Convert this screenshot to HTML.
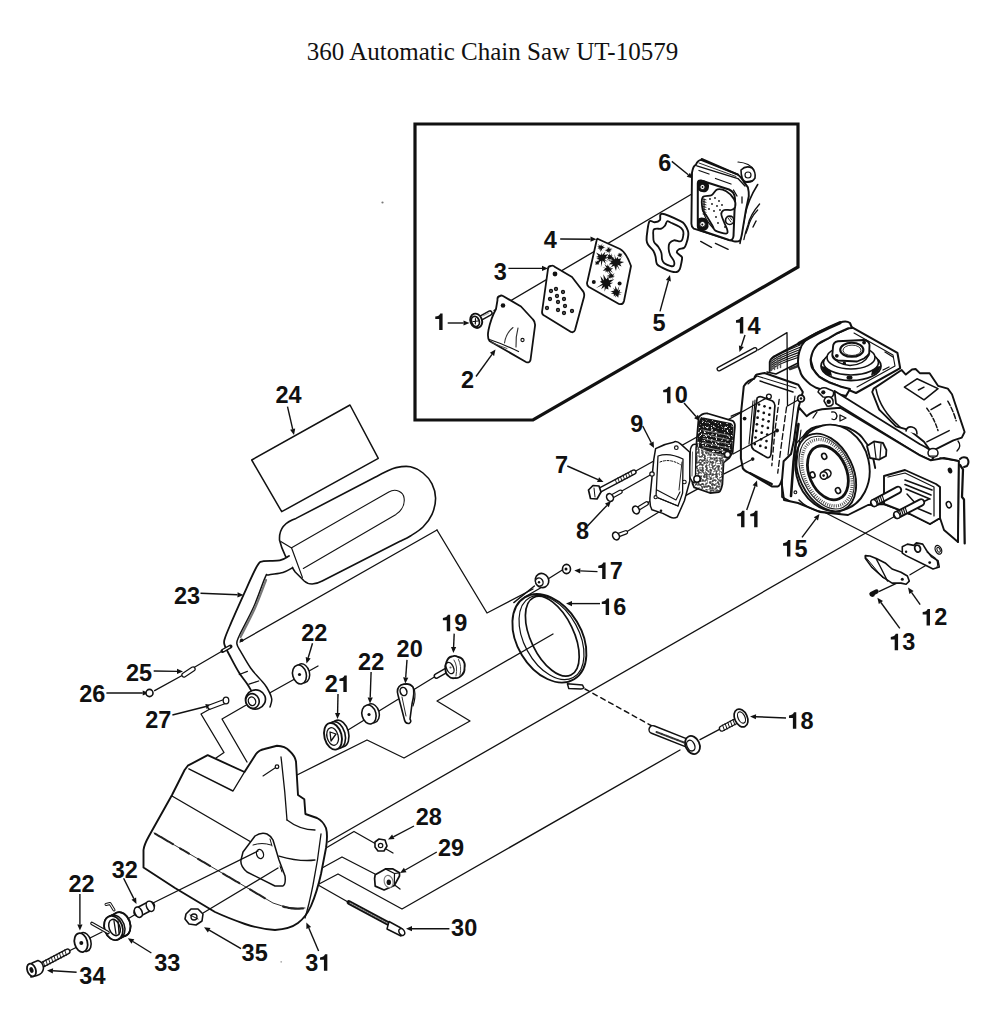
<!DOCTYPE html>
<html><head><meta charset="utf-8"><style>
html,body{margin:0;padding:0;background:#fff;}
body{width:1000px;height:1019px;overflow:hidden;position:relative;}
svg{position:absolute;left:0;top:0;}
.L{font-family:"Liberation Sans",sans-serif;font-weight:bold;font-size:23.5px;fill:#111;}
.T{font-family:"Liberation Serif",serif;font-size:25px;fill:#111;}
.t{fill:none;stroke:#111;stroke-linecap:round;stroke-linejoin:round;}
.a{stroke:#111;}
</style></head><body>
<svg width="1000" height="1019" viewBox="0 0 1000 1019">
<text x="492.5" y="59.7" text-anchor="middle" class="T">360 Automatic Chain Saw UT-10579</text>
<polygon points="415,124 798,124 798,267 533,420 415,420" fill="none" stroke="#111" stroke-width="3.2" stroke-linejoin="miter"/>
<polyline points="494,310.5 702,188" class="t" stroke-width="1.32"/>
<polyline points="437,530 487,613 533,589" class="t" stroke-width="1.32"/>
<polyline points="240,642 437,530" class="t" stroke-width="1.32"/>
<polyline points="266,695 318,666" class="t" stroke-width="1.32"/>
<polyline points="348,730 436,676" class="t" stroke-width="1.32"/>
<polyline points="297,775 367,740 404,758 470,721 437,701 553,634" class="t" stroke-width="1.32"/>
<polyline points="328,842 904,511" class="t" stroke-width="1.32"/>
<polyline points="326,848 354,831.5 376,844" class="t" stroke-width="1.32"/>
<polyline points="386,849 393,853" class="t" stroke-width="1.32"/>
<polyline points="322,868 342,857 375,874" class="t" stroke-width="1.32"/>
<polyline points="392,883 400,889" class="t" stroke-width="1.32"/>
<polyline points="319,884 338,874 402,909 680,750" class="t" stroke-width="1.32"/>
<polyline points="319,885.5 348,902" class="t" stroke-width="1.32"/>
<polyline points="720.4,728.8 700,739.6" class="t" stroke-width="1.32"/>
<polyline points="585,689 652,726" class="t" stroke-width="1.44" stroke-dasharray="5,4"/>
<polyline points="822,511 903,552.5" class="t" stroke-width="1.32"/>
<polyline points="879.3,591.4 898.5,582.4" class="t" stroke-width="1.32"/>
<polyline points="910,574.8 925.3,565.8" class="t" stroke-width="1.32"/>
<polyline points="561.9,570.3 548,579" class="t" stroke-width="1.32"/>
<polyline points="210,709 201,714 224,752.5 216,758" class="t" stroke-width="1.32"/>
<polyline points="248,704 222,719 247,762" class="t" stroke-width="1.32"/>
<polyline points="194,667.5 224,650" class="t" stroke-width="1.32"/>
<polyline points="154.6,690.6 183,675" class="t" stroke-width="1.32"/>
<polyline points="67,952 76,947.5" class="t" stroke-width="1.32"/>
<polyline points="88,939 102,932" class="t" stroke-width="1.32"/>
<polyline points="126,920 136,914" class="t" stroke-width="1.32"/>
<polyline points="634,472 769,397" class="t" stroke-width="1.32"/>
<polyline points="620.5,491.8 652,474 700,452" class="t" stroke-width="1.32"/>
<polyline points="646.6,503.5 655.6,497.2 684.4,482" class="t" stroke-width="1.32"/>
<polyline points="686,495.4 702.4,486.4" class="t" stroke-width="1.32"/>
<polyline points="625.9,532.3 661,510.7" class="t" stroke-width="1.32"/>
<polyline points="724,473.8 753,459.4" class="t" stroke-width="1.32"/>
<polyline points="731.2,416.2 760,403.6" class="t" stroke-width="1.32"/>
<polyline points="733,454 777,430.4" class="t" stroke-width="1.32"/>
<path d="M442.58,329.90 L442.58,313.40 L440.28,313.40 C439.58,315.30 437.88,316.30 435.28,316.60 L435.28,319.00 L439.18,319.00 L439.18,329.90 Z" fill="#111"/>
<line x1="447.7" y1="323" x2="463.5" y2="323.0" class="a" stroke-width="1.4"/>
<polygon points="469.5,323 463.5,325.6 463.5,320.4" fill="#111"/>
<text x="460.99" y="388.20" class="L">2</text>
<line x1="476" y1="376.5" x2="492.0" y2="354.4" class="a" stroke-width="1.4"/>
<polygon points="495.5,349.5 494.1,355.9 489.9,352.8" fill="#111"/>
<text x="493.86" y="279.80" class="L">3</text>
<line x1="508.4" y1="268.4" x2="542.0" y2="268.4" class="a" stroke-width="1.4"/>
<polygon points="548,268.4 542.0,271.0 542.0,265.8" fill="#111"/>
<text x="543.74" y="248.30" class="L">4</text>
<line x1="560.2" y1="239" x2="590.5" y2="239.2" class="a" stroke-width="1.4"/>
<polygon points="596.5,239.2 590.5,241.8 590.5,236.6" fill="#111"/>
<text x="652.48" y="330.60" class="L">5</text>
<line x1="660" y1="311.4" x2="668.4" y2="280.8" class="a" stroke-width="1.4"/>
<polygon points="670,275 670.9,281.5 665.9,280.1" fill="#111"/>
<text x="658.34" y="171.20" class="L">6</text>
<line x1="671.8" y1="161.4" x2="688.3" y2="174.7" class="a" stroke-width="1.4"/>
<polygon points="693,178.5 686.7,176.8 690.0,172.7" fill="#111"/>
<text x="554.99" y="472.90" class="L">7</text>
<line x1="567.3" y1="466" x2="598.0" y2="479.6" class="a" stroke-width="1.4"/>
<polygon points="603.5,482 597.0,482.0 599.1,477.2" fill="#111"/>
<text x="576.05" y="539.00" class="L">8</text>
<line x1="587.5" y1="526" x2="606.9" y2="505.4" class="a" stroke-width="1.4"/>
<polygon points="611,501 608.8,507.2 605.0,503.6" fill="#111"/>
<text x="630.19" y="431.70" class="L">9</text>
<line x1="642.7" y1="426" x2="651.3" y2="442.7" class="a" stroke-width="1.4"/>
<polygon points="654,448 648.9,443.9 653.6,441.5" fill="#111"/>
<path d="M670.48,403.20 L670.48,386.70 L668.18,386.70 C667.48,388.60 665.78,389.60 663.18,389.90 L663.18,392.30 L667.08,392.30 L667.08,403.20 Z" fill="#111"/>
<text x="674.65" y="403.20" class="L">0</text>
<line x1="684" y1="403" x2="696.0" y2="416.5" class="a" stroke-width="1.4"/>
<polygon points="700,421 694.1,418.2 698.0,414.8" fill="#111"/>
<path d="M744.48,527.20 L744.48,510.70 L742.18,510.70 C741.48,512.60 739.78,513.60 737.18,513.90 L737.18,516.30 L741.08,516.30 L741.08,527.20 Z" fill="#111"/>
<path d="M757.55,527.20 L757.55,510.70 L755.25,510.70 C754.55,512.60 752.85,513.60 750.25,513.90 L750.25,516.30 L754.15,516.30 L754.15,527.20 Z" fill="#111"/>
<line x1="746.7" y1="510" x2="755.0" y2="486.2" class="a" stroke-width="1.4"/>
<polygon points="757,480.5 757.5,487.0 752.6,485.3" fill="#111"/>
<path d="M929.98,625.40 L929.98,608.90 L927.68,608.90 C926.98,610.80 925.28,611.80 922.68,612.10 L922.68,614.50 L926.58,614.50 L926.58,625.40 Z" fill="#111"/>
<text x="934.15" y="625.40" class="L">2</text>
<line x1="920.2" y1="604.7" x2="911.5" y2="592.4" class="a" stroke-width="1.4"/>
<polygon points="908,587.5 913.6,590.9 909.4,593.9" fill="#111"/>
<path d="M898.08,650.30 L898.08,633.80 L895.78,633.80 C895.08,635.70 893.38,636.70 890.78,637.00 L890.78,639.40 L894.68,639.40 L894.68,650.30 Z" fill="#111"/>
<text x="902.25" y="650.30" class="L">3</text>
<line x1="899.8" y1="628.4" x2="880.9" y2="602.5" class="a" stroke-width="1.4"/>
<polygon points="877.4,597.7 883.0,601.0 878.8,604.1" fill="#111"/>
<path d="M743.28,333.60 L743.28,317.10 L740.98,317.10 C740.28,319.00 738.58,320.00 735.98,320.30 L735.98,322.70 L739.88,322.70 L739.88,333.60 Z" fill="#111"/>
<text x="747.45" y="333.60" class="L">4</text>
<line x1="745" y1="335" x2="741.3" y2="346.3" class="a" stroke-width="1.4"/>
<polygon points="739.5,352 738.9,345.5 743.8,347.1" fill="#111"/>
<path d="M790.38,556.60 L790.38,540.10 L788.08,540.10 C787.38,542.00 785.68,543.00 783.08,543.30 L783.08,545.70 L786.98,545.70 L786.98,556.60 Z" fill="#111"/>
<text x="794.55" y="556.60" class="L">5</text>
<line x1="802" y1="537.4" x2="815.9" y2="518.8" class="a" stroke-width="1.4"/>
<polygon points="819.5,514 818.0,520.4 813.8,517.2" fill="#111"/>
<path d="M609.08,615.00 L609.08,598.50 L606.78,598.50 C606.08,600.40 604.38,601.40 601.78,601.70 L601.78,604.10 L605.68,604.10 L605.68,615.00 Z" fill="#111"/>
<text x="613.25" y="615.00" class="L">6</text>
<line x1="600" y1="603.6" x2="572.0" y2="603.6" class="a" stroke-width="1.4"/>
<polygon points="566,603.6 572.0,601.0 572.0,606.2" fill="#111"/>
<path d="M605.58,579.00 L605.58,562.50 L603.28,562.50 C602.58,564.40 600.88,565.40 598.28,565.70 L598.28,568.10 L602.18,568.10 L602.18,579.00 Z" fill="#111"/>
<text x="609.75" y="579.00" class="L">7</text>
<line x1="597.5" y1="571.6" x2="580.3" y2="570.9" class="a" stroke-width="1.4"/>
<polygon points="574.3,570.6 580.4,568.3 580.2,573.5" fill="#111"/>
<path d="M796.28,728.80 L796.28,712.30 L793.98,712.30 C793.28,714.20 791.58,715.20 788.98,715.50 L788.98,717.90 L792.88,717.90 L792.88,728.80 Z" fill="#111"/>
<text x="800.45" y="728.80" class="L">8</text>
<line x1="786" y1="718" x2="756.0" y2="716.7" class="a" stroke-width="1.4"/>
<polygon points="750,716.5 756.1,714.2 755.9,719.3" fill="#111"/>
<path d="M450.18,631.20 L450.18,614.70 L447.88,614.70 C447.18,616.60 445.48,617.60 442.88,617.90 L442.88,620.30 L446.78,620.30 L446.78,631.20 Z" fill="#111"/>
<text x="454.35" y="631.20" class="L">9</text>
<line x1="454.2" y1="633.6" x2="453.6" y2="647.0" class="a" stroke-width="1.4"/>
<polygon points="453.4,653 451.0,646.9 456.2,647.1" fill="#111"/>
<text x="396.59" y="657.00" class="L">2</text>
<text x="409.65" y="657.00" class="L">0</text>
<line x1="407" y1="659.9" x2="405.7" y2="677.5" class="a" stroke-width="1.4"/>
<polygon points="405.3,683.5 403.1,677.3 408.3,677.7" fill="#111"/>
<text x="324.79" y="692.00" class="L">2</text>
<path d="M346.75,692.00 L346.75,675.50 L344.45,675.50 C343.75,677.40 342.05,678.40 339.45,678.70 L339.45,681.10 L343.35,681.10 L343.35,692.00 Z" fill="#111"/>
<line x1="338" y1="694" x2="337.6" y2="713.0" class="a" stroke-width="1.4"/>
<polygon points="337.5,719 335.0,712.9 340.2,713.1" fill="#111"/>
<text x="301.19" y="641.20" class="L">2</text>
<text x="314.25" y="641.20" class="L">2</text>
<line x1="312.5" y1="643.3" x2="308.2" y2="657.7" class="a" stroke-width="1.4"/>
<polygon points="306.5,663.4 305.7,656.9 310.7,658.4" fill="#111"/>
<text x="358.09" y="670.10" class="L">2</text>
<text x="371.15" y="670.10" class="L">2</text>
<line x1="371.1" y1="672.1" x2="370.2" y2="697.5" class="a" stroke-width="1.4"/>
<polygon points="370,703.5 367.6,697.4 372.8,697.6" fill="#111"/>
<text x="68.49" y="891.70" class="L">2</text>
<text x="81.55" y="891.70" class="L">2</text>
<line x1="79.9" y1="894" x2="79.9" y2="924.5" class="a" stroke-width="1.4"/>
<polygon points="79.9,930.5 77.3,924.5 82.5,924.5" fill="#111"/>
<text x="173.99" y="603.70" class="L">2</text>
<text x="187.05" y="603.70" class="L">3</text>
<line x1="200.5" y1="593.3" x2="237.5" y2="594.8" class="a" stroke-width="1.4"/>
<polygon points="243.5,595 237.4,597.4 237.6,592.2" fill="#111"/>
<text x="275.39" y="403.30" class="L">2</text>
<text x="288.45" y="403.30" class="L">4</text>
<line x1="287.5" y1="406.6" x2="292.7" y2="429.2" class="a" stroke-width="1.4"/>
<polygon points="294,435 290.1,429.7 295.2,428.6" fill="#111"/>
<text x="125.89" y="680.50" class="L">2</text>
<text x="138.95" y="680.50" class="L">5</text>
<line x1="153.7" y1="671" x2="177.0" y2="671.4" class="a" stroke-width="1.4"/>
<polygon points="183,671.5 177.0,674.0 177.0,668.8" fill="#111"/>
<text x="79.19" y="702.00" class="L">2</text>
<text x="92.25" y="702.00" class="L">6</text>
<line x1="106.4" y1="693" x2="142.7" y2="693.0" class="a" stroke-width="1.4"/>
<polygon points="148.7,693 142.7,695.6 142.7,690.4" fill="#111"/>
<text x="145.19" y="727.50" class="L">2</text>
<text x="158.25" y="727.50" class="L">7</text>
<line x1="172.4" y1="715" x2="206.0" y2="706.5" class="a" stroke-width="1.4"/>
<polygon points="211.8,705 206.6,709.0 205.3,704.0" fill="#111"/>
<text x="415.79" y="824.60" class="L">2</text>
<text x="428.85" y="824.60" class="L">8</text>
<line x1="414" y1="826" x2="393.3" y2="836.8" class="a" stroke-width="1.4"/>
<polygon points="388,839.6 392.1,834.5 394.5,839.1" fill="#111"/>
<text x="437.99" y="856.10" class="L">2</text>
<text x="451.05" y="856.10" class="L">9</text>
<line x1="436.8" y1="852" x2="405.2" y2="870.0" class="a" stroke-width="1.4"/>
<polygon points="400,873 403.9,867.8 406.5,872.3" fill="#111"/>
<text x="451.06" y="936.00" class="L">3</text>
<text x="464.13" y="936.00" class="L">0</text>
<line x1="449.4" y1="928.7" x2="412.0" y2="928.7" class="a" stroke-width="1.4"/>
<polygon points="406,928.7 412.0,926.1 412.0,931.3" fill="#111"/>
<text x="305.36" y="970.70" class="L">3</text>
<path d="M327.33,970.70 L327.33,954.20 L325.03,954.20 C324.33,956.10 322.63,957.10 320.03,957.40 L320.03,959.80 L323.93,959.80 L323.93,970.70 Z" fill="#111"/>
<line x1="318.6" y1="951" x2="308.8" y2="927.9" class="a" stroke-width="1.4"/>
<polygon points="306.4,922.4 311.1,926.9 306.4,928.9" fill="#111"/>
<text x="111.76" y="877.70" class="L">3</text>
<text x="124.83" y="877.70" class="L">2</text>
<line x1="123.6" y1="878.2" x2="133.8" y2="898.6" class="a" stroke-width="1.4"/>
<polygon points="136.5,904 131.5,899.8 136.1,897.5" fill="#111"/>
<text x="154.16" y="970.50" class="L">3</text>
<text x="167.23" y="970.50" class="L">3</text>
<line x1="151.4" y1="953" x2="132.9" y2="941.5" class="a" stroke-width="1.4"/>
<polygon points="127.8,938.3 134.3,939.3 131.5,943.7" fill="#111"/>
<text x="79.36" y="984.40" class="L">3</text>
<text x="92.43" y="984.40" class="L">4</text>
<line x1="76.6" y1="972.2" x2="53.0" y2="970.8" class="a" stroke-width="1.4"/>
<polygon points="47,970.5 53.1,968.2 52.8,973.4" fill="#111"/>
<text x="241.56" y="961.10" class="L">3</text>
<text x="254.63" y="961.10" class="L">5</text>
<line x1="241" y1="948.7" x2="209.2" y2="930.2" class="a" stroke-width="1.4"/>
<polygon points="204,927.2 210.5,928.0 207.9,932.5" fill="#111"/>
<path d="M481,318 L490,313" fill="none" stroke="#111" stroke-width="5.60" stroke-linejoin="round" stroke-linecap="round" />
<path d="M481,318 L490,313" fill="none" stroke="#fff" stroke-width="2.60" stroke-linejoin="round" stroke-linecap="round" />
<path d="M483,316 L489,313" fill="none" stroke="#888" stroke-width="0.90" stroke-linejoin="round" stroke-linecap="round" />
<ellipse cx="476.2" cy="320.8" rx="5.8" ry="7.3" transform="rotate(-20 476.2 320.8)" fill="#fff" stroke="#111" stroke-width="1.9"/>
<ellipse cx="475.4" cy="321.4" rx="3.8" ry="5.2" transform="rotate(-20 475.4 321.4)" fill="#fff" stroke="#111" stroke-width="1.8"/>
<path d="M473,321.5 L478,321 M475.5,318.5 L475.3,324" fill="none" stroke="#111" stroke-width="1.20" stroke-linejoin="round" stroke-linecap="round" />
<path d="M500,296 Q497,296.5 497.5,300 L496,309 Q491,318 488.5,330 Q487,338 489.5,341 L526,362 Q529.5,363.5 530.5,360 L535,326 Q535.5,322 533,319.5 L521,306.5 L503,296 Q501,295 500,296 Z" fill="#fff" stroke="#111" stroke-width="1.80" stroke-linejoin="round" stroke-linecap="round" />
<circle cx="503" cy="305.5" r="2.3" fill="#111"/>
<path d="M504.5,343 Q506,333 513,327.5" fill="none" stroke="#333" stroke-width="1.10" stroke-linejoin="round" stroke-linecap="round" />
<path d="M516,347 Q515.5,337 518,328" fill="none" stroke="#333" stroke-width="1.10" stroke-linejoin="round" stroke-linecap="round" />
<circle cx="522.5" cy="340" r="1.6" fill="none" stroke="#111" stroke-width="1.1"/>
<path d="M489.5,339.5 Q503,344 518.5,351.5" fill="none" stroke="#111" stroke-width="1.20" stroke-linejoin="round" stroke-linecap="round" />
<path d="M491,342.5 L507,348.5" fill="none" stroke="#444" stroke-width="0.90" stroke-linejoin="round" stroke-linecap="round" />
<path d="M551,266 Q548,266 548,269 L542,312 Q542,315 545,316 L571,332 Q574,333 575,330 L584,297 Q585,293 582,290 L572,277 L555,267 Q553,265 551,266 Z" fill="#fff" stroke="#111" stroke-width="1.80" stroke-linejoin="round" stroke-linecap="round" />
<circle cx="555" cy="274" r="2.4" fill="#111"/>
<circle cx="551" cy="291" r="1.6" fill="#555" stroke="#111" stroke-width="1.1"/>
<circle cx="556" cy="289" r="1.6" fill="#555" stroke="#111" stroke-width="1.1"/>
<circle cx="563" cy="292" r="1.6" fill="#555" stroke="#111" stroke-width="1.1"/>
<circle cx="550" cy="299" r="1.6" fill="#555" stroke="#111" stroke-width="1.1"/>
<circle cx="557" cy="296" r="1.6" fill="#555" stroke="#111" stroke-width="1.1"/>
<circle cx="564" cy="299" r="1.6" fill="#555" stroke="#111" stroke-width="1.1"/>
<circle cx="547" cy="308" r="1.6" fill="#555" stroke="#111" stroke-width="1.1"/>
<circle cx="558" cy="302" r="1.6" fill="#555" stroke="#111" stroke-width="1.1"/>
<circle cx="565" cy="306" r="1.6" fill="#555" stroke="#111" stroke-width="1.1"/>
<circle cx="558" cy="310" r="1.6" fill="#555" stroke="#111" stroke-width="1.1"/>
<circle cx="564" cy="313" r="1.6" fill="#555" stroke="#111" stroke-width="1.1"/>
<circle cx="572" cy="311" r="1.6" fill="#555" stroke="#111" stroke-width="1.1"/>
<path d="M598,239 L620,249 Q626,252 631,266 L624,301 Q623,305 619,304 L589,287 Q586,285 587.5,281 L596.5,241 Q597,238 598,239 Z" fill="#fff" stroke="#111" stroke-width="1.80" stroke-linejoin="round" stroke-linecap="round" />
<polygon points="608.3,257.7 604.5,258.9 608.0,262.0 604.6,260.3 606.0,264.3 602.7,260.6 600.9,267.2 601.1,260.8 595.3,265.1 599.2,259.7 596.3,258.8 598.9,257.7 596.0,256.9 598.4,256.0 596.1,252.4 600.8,255.0 601.2,252.2 602.0,255.1 605.5,251.4 604.3,255.1 607.8,254.2 605.8,257.2" fill="#111"/>
<polygon points="624.1,261.9 620.1,263.7 621.5,266.6 617.5,264.8 619.9,270.5 616.9,265.9 616.0,271.0 614.2,265.7 610.9,267.2 612.8,264.3 608.7,264.5 611.6,262.1 607.8,260.2 612.5,260.8 609.8,254.7 615.0,259.6 614.5,254.1 616.0,259.1 618.0,256.7 618.2,259.1 621.2,258.3 620.0,261.2" fill="#111"/>
<polygon points="613.2,268.3 610.8,269.9 613.1,273.0 609.6,270.6 611.0,274.8 608.0,270.9 607.8,273.5 607.2,271.2 604.9,272.4 606.3,270.5 602.7,270.8 605.4,268.6 602.5,267.4 606.5,267.9 604.5,263.9 607.1,266.3 607.1,264.0 608.1,266.4 609.2,265.1 609.1,267.4 611.3,266.7 609.8,268.2" fill="#111"/>
<polygon points="613.2,282.7 610.1,284.2 611.1,287.4 608.0,286.0 608.5,289.4 605.8,288.4 604.5,291.7 604.7,286.4 601.2,289.2 602.9,285.0 596.1,287.9 602.6,283.6 599.8,281.8 601.6,281.0 600.4,276.0 603.9,280.6 603.3,274.3 606.3,279.3 608.2,277.1 609.0,280.3 614.3,279.2 609.8,282.8" fill="#111"/>
<polygon points="622.5,291.9 618.5,292.9 621.3,294.5 618.7,294.5 618.2,297.8 616.6,295.8 615.1,297.6 615.8,294.5 613.8,296.4 613.8,294.0 610.9,293.5 613.5,292.3 610.3,291.4 614.3,290.4 613.2,287.8 615.1,289.8 615.3,285.7 617.3,290.0 619.4,285.7 618.1,290.9 620.2,289.4 619.6,291.9" fill="#111"/>
<polygon points="605.6,247.0 602.7,248.3 604.5,249.5 601.9,248.4 602.2,251.6 601.3,249.7 600.4,252.2 600.3,248.8 598.9,250.3 599.5,248.6 597.5,248.8 598.9,247.7 597.3,246.6 599.2,246.3 597.8,243.9 600.3,245.9 600.6,244.7 601.2,246.1 602.3,243.1 602.0,246.1 604.5,245.6 602.7,246.9" fill="#111"/>
<polygon points="612.6,250.1 610.2,250.3 611.2,251.4 609.5,251.2 610.2,253.6 608.6,251.5 608.0,253.4 607.9,251.5 606.4,252.7 607.0,251.0 604.6,250.9 607.3,249.8 604.5,248.7 607.6,249.2 606.2,247.8 607.9,248.9 607.6,246.4 609.0,248.2 609.8,246.4 609.4,249.1 612.5,248.1 610.4,249.3" fill="#111"/>
<polygon points="614.9,275.9 612.9,276.9 614.3,277.7 612.0,277.2 612.7,279.0 611.1,277.3 610.4,279.7 610.6,277.5 608.3,278.9 609.3,277.4 606.2,277.0 609.5,276.2 606.5,275.3 609.8,275.3 607.8,272.4 610.5,274.6 609.8,271.3 611.3,274.1 611.9,273.2 612.2,274.8 614.7,272.9 613.0,275.5" fill="#111"/>
<polygon points="600.5,262.6 598.6,263.2 599.3,264.4 598.0,264.3 598.1,265.0 597.2,264.1 596.9,265.4 596.7,264.0 595.4,265.1 596.0,263.5 594.7,263.7 596.0,263.0 594.9,262.6 595.9,262.2 594.9,261.0 596.7,262.0 596.9,260.2 597.2,261.5 598.1,260.3 598.2,261.8 599.8,261.0 598.4,262.7" fill="#111"/>
<polygon points="622.7,254.9 621.0,255.2 623.0,256.4 620.8,255.8 621.8,258.0 620.0,256.4 619.8,257.5 619.5,256.2 618.4,257.3 618.7,256.0 617.0,255.4 618.3,255.1 617.4,254.4 618.9,254.5 618.1,252.8 619.3,253.9 619.3,252.6 620.0,253.8 620.6,253.0 620.7,254.1 622.5,253.5 621.4,254.7" fill="#111"/>
<polygon points="614.7,257.3 611.5,257.4 612.4,259.1 611.1,258.5 612.5,260.9 610.0,258.9 609.0,261.5 609.4,258.7 607.0,260.5 608.2,258.0 605.4,258.2 608.1,256.9 607.2,256.4 608.6,256.3 606.6,253.9 609.2,255.3 609.5,252.7 610.2,255.7 612.2,253.1 611.2,255.6 612.6,255.5 611.5,256.7" fill="#111"/>
<circle cx="593.8" cy="282.1" r="2.0" fill="#111"/>
<circle cx="619.6" cy="283.6" r="2.0" fill="#111"/>
<path d="M649.6,221.2 C650.8,219.8 653.0,222.5 654.7,222.3 C656.4,222.1 658.7,221.5 659.9,220.1 C661.1,218.7 658.7,213.6 662.1,213.8 C665.5,214.0 676.7,219.3 680.5,221.2 C684.3,223.0 683.7,223.3 684.9,224.9 C686.1,226.5 687.3,229.0 687.9,230.8 C688.5,232.6 688.5,233.8 688.2,235.9 C688.0,238.0 687.1,241.3 686.4,243.3 C685.7,245.3 685.4,246.7 684.2,247.7 C683.0,248.7 680.2,248.5 679.0,249.2 C677.8,249.9 676.7,251.1 676.8,252.1 C676.9,253.1 678.9,254.2 679.8,255.1 C680.7,256.0 681.7,256.2 682.0,257.3 C682.3,258.4 682.0,259.7 681.6,261.7 C681.2,263.7 680.6,267.4 679.8,269.1 C679.0,270.8 678.3,271.6 676.8,272.0 C675.3,272.4 673.3,272.0 670.9,271.3 C668.5,270.6 664.4,268.8 662.1,267.6 C659.8,266.4 658.0,265.8 656.9,263.9 C655.8,262.0 656.1,258.7 655.5,256.5 C654.9,254.3 654.5,252.6 653.3,250.7 C652.1,248.8 649.2,246.5 648.1,244.8 C647.0,243.1 646.7,242.6 646.6,240.3 C646.5,238.0 646.9,234.0 647.4,230.8 C647.9,227.6 648.4,222.6 649.6,221.2 Z" fill="#fff" stroke="#111" stroke-width="1.90" stroke-linejoin="round" stroke-linecap="round" />
<path d="M654.0,229.3 C655.4,228.1 659.6,229.2 661.4,228.6 C663.2,228.0 664.0,226.8 665.0,225.6 C666.0,224.4 666.2,221.7 667.2,221.2 C668.2,220.7 668.9,221.8 670.9,222.7 C672.9,223.6 677.0,225.2 679.0,226.4 C681.0,227.6 682.0,228.7 682.7,230.0 C683.4,231.3 683.6,232.7 683.4,234.5 C683.1,236.3 682.8,240.1 681.2,241.1 C679.6,242.1 675.9,239.9 673.9,240.3 C671.9,240.7 670.4,241.8 669.5,243.3 C668.6,244.8 668.6,247.2 668.7,249.2 C668.8,251.2 669.3,253.1 670.2,255.1 C671.1,257.1 673.3,259.3 673.9,261.0 C674.5,262.7 674.4,264.5 673.9,265.4 C673.4,266.2 672.5,266.5 670.9,266.1 C669.3,265.7 665.8,264.3 664.3,263.2 C662.8,262.1 662.6,261.2 662.1,259.5 C661.6,257.8 662.0,255.0 661.4,252.9 C660.8,250.8 659.6,248.8 658.4,247.0 C657.2,245.2 654.9,243.7 654.0,241.8 C653.1,240.0 653.3,238.0 653.3,235.9 C653.3,233.8 652.6,230.5 654.0,229.3 Z" fill="#fff" stroke="#111" stroke-width="1.80" stroke-linejoin="round" stroke-linecap="round" />
<path d="M738,162 Q750,163 754,170" fill="none" stroke="#111" stroke-width="1.20" stroke-linejoin="round" stroke-linecap="round" />
<path d="M757.7,184.5 Q748,200 745,215 Q742,230 740,243.4" fill="none" stroke="#111" stroke-width="1.60" stroke-linejoin="round" stroke-linecap="round" />
<path d="M759.6,204 Q750,215 748,225 Q745,233 743.9,239.5" fill="none" stroke="#111" stroke-width="1.30" stroke-linejoin="round" stroke-linecap="round" />
<path d="M757.7,210 Q750,218 748,228 L745.9,233.6" fill="none" stroke="#111" stroke-width="1.20" stroke-linejoin="round" stroke-linecap="round" />
<path d="M756,221 L753,227" fill="none" stroke="#111" stroke-width="1.40" stroke-linejoin="round" stroke-linecap="round" />
<path d="M692,172.7 Q693,166 695.8,164.8 Q698,160 701,159.9 L738,174.6 L741,177.6 L747.9,187.4 Q749,192 748.8,196.2 L745.9,210 L742,233.6 Q741,239 740,240.4 Q738,242 734,241.4 L693.8,228.7 Q691.4,227 691.4,223.7 Z" fill="#fff" stroke="#111" stroke-width="1.90" stroke-linejoin="round" stroke-linecap="round" />
<path d="M701.7,159 L738,174.6" fill="none" stroke="#111" stroke-width="2.00" stroke-linejoin="round" stroke-linecap="round" />
<path d="M696.8,165.8 L738,178.6 L745,186" fill="none" stroke="#111" stroke-width="1.40" stroke-linejoin="round" stroke-linecap="round" />
<path d="M699,163 L736,176.5" fill="none" stroke="#111" stroke-width="0.90" stroke-linejoin="round" stroke-linecap="round" />
<path d="M699,170.5 L709,174 M715.5,178.5 L731,184 M733.5,190 L737,196 M742,197 L742,203" fill="none" stroke="#111" stroke-width="1.30" stroke-linejoin="round" stroke-linecap="round" />
<path d="M697.8,183 Q698,180 701,180.5 L729,189.5 Q735,192 735,199 L733.5,236 Q733,241 729,240 L701,230.5 Q697.8,229.6 697.8,226 Z" fill="#fff" stroke="#111" stroke-width="2.00" stroke-linejoin="round" stroke-linecap="round" />
<path d="M702.7,197.2 C704.2,194.8 709.0,196.6 711.5,195.3 C714.0,194.0 714.9,190.1 717.4,189.4 C719.9,188.7 723.4,189.7 726.2,191.3 C729.0,192.9 732.6,196.6 734.1,199.2 C735.6,201.8 735.6,205.2 735.1,207.0 C734.6,208.8 733.0,209.5 731.2,210.0 C729.4,210.5 725.9,209.3 724.3,210.0 C722.6,210.7 721.3,211.9 721.3,213.9 C721.2,215.9 723.0,219.4 724.0,222.0 C725.0,224.6 726.8,227.7 727.2,229.6 C727.6,231.5 728.2,233.4 726.2,233.6 C724.2,233.8 717.7,231.9 715.4,230.6 C713.1,229.3 714.0,228.1 712.5,225.7 C711.0,223.2 708.2,218.5 706.6,215.9 C705.0,213.3 703.4,213.1 702.7,210.0 C702.1,206.9 701.2,199.6 702.7,197.2 Z" fill="#fff" stroke="#111" stroke-width="1.80" stroke-linejoin="round" stroke-linecap="round" />
<path d="M703,199.0 L706,199.8" fill="none" stroke="#111" stroke-width="0.90" stroke-linejoin="round" stroke-linecap="round" />
<path d="M703,201.5 L706,202.3" fill="none" stroke="#111" stroke-width="0.90" stroke-linejoin="round" stroke-linecap="round" />
<path d="M703,204.0 L706,204.8" fill="none" stroke="#111" stroke-width="0.90" stroke-linejoin="round" stroke-linecap="round" />
<path d="M703,206.5 L706,207.3" fill="none" stroke="#111" stroke-width="0.90" stroke-linejoin="round" stroke-linecap="round" />
<path d="M703,209.0 L706,209.8" fill="none" stroke="#111" stroke-width="0.90" stroke-linejoin="round" stroke-linecap="round" />
<path d="M703,211.5 L706,212.3" fill="none" stroke="#111" stroke-width="0.90" stroke-linejoin="round" stroke-linecap="round" />
<path d="M703,214.0 L706,214.8" fill="none" stroke="#111" stroke-width="0.90" stroke-linejoin="round" stroke-linecap="round" />
<path d="M704,199 L704,214 Q707,222 713,228" fill="none" stroke="#111" stroke-width="1.20" stroke-linejoin="round" stroke-linecap="round" />
<circle cx="710" cy="199" r="0.9" fill="#111"/>
<circle cx="715" cy="198" r="0.9" fill="#111"/>
<circle cx="719" cy="201" r="0.9" fill="#111"/>
<circle cx="712" cy="204" r="0.9" fill="#111"/>
<circle cx="717" cy="206" r="0.9" fill="#111"/>
<circle cx="722" cy="205" r="0.9" fill="#111"/>
<circle cx="709" cy="209" r="0.9" fill="#111"/>
<circle cx="714" cy="211" r="0.9" fill="#111"/>
<circle cx="720" cy="210" r="0.9" fill="#111"/>
<circle cx="716" cy="217" r="0.9" fill="#111"/>
<circle cx="718" cy="223" r="0.9" fill="#111"/>
<circle cx="725" cy="227" r="0.9" fill="#111"/>
<path d="M697,183 Q698,179.5 703,180 Q708,181 709,185 Q709.5,190 706,192 Q701,193 698,190 Z" fill="#111"/>
<path d="M697.5,219 Q700,216.5 705,218 Q709,221 708.5,227 Q707,231 702,231 Q698,230 697.5,226 Z" fill="#111"/>
<circle cx="702.5" cy="186.5" r="4.6" fill="#111"/>
<circle cx="702.5" cy="187" r="2.6" fill="#fff" stroke="#111" stroke-width="1"/>
<circle cx="702.5" cy="187" r="0.9" fill="#111"/>
<circle cx="702.5" cy="224" r="4.8" fill="#111"/>
<circle cx="702.5" cy="224.2" r="2.8" fill="#fff" stroke="#111" stroke-width="1"/>
<circle cx="702.3" cy="224.4" r="1" fill="#111"/>
<circle cx="729.7" cy="220.3" r="4.2" fill="#fff" stroke="#111" stroke-width="1.7"/>
<path d="M728,218 L731,222 M730,217.5 L732,220" fill="none" stroke="#111" stroke-width="0.90" stroke-linejoin="round" stroke-linecap="round" />
<path d="M741,170 Q746,165 752,168 Q756,172 755,178 Q752,183 746,182 Q741,180 741,170 Z" fill="#fff" stroke="#111" stroke-width="1.60" stroke-linejoin="round" stroke-linecap="round" />
<circle cx="748" cy="175" r="3" fill="none" stroke="#111" stroke-width="1.2"/>
<path d="M744,182 L752,181" fill="none" stroke="#111" stroke-width="1.40" stroke-linejoin="round" stroke-linecap="round" />
<path d="M700.7,241.4 L711.5,247.3" fill="none" stroke="#111" stroke-width="1.40" stroke-linejoin="round" stroke-linecap="round" />
<path d="M715.4,243.4 L728.2,249.3" fill="none" stroke="#111" stroke-width="1.40" stroke-linejoin="round" stroke-linecap="round" />
<path d="M873.6,388.6 L901.6,370 L905.8,374.6 L912,369.5 L915.6,369 L919.8,373.2 L929.6,373.2 L938,385.8 L947.8,388.6 L952,394.2 L961.8,423.6 L964.6,432 L961.8,437.6 L953.4,440.4 L931,451.6 L924,441.8 L910,430.6 L905.8,429.2 L896,426.4 L879.2,409.6 L872.2,392 Z" fill="#fff" stroke="#111" stroke-width="1.90" stroke-linejoin="round" stroke-linecap="round" />
<path d="M904.4,387.2 L917,378.8 L938,388.6 L924,399.8 Z" fill="none" stroke="#111" stroke-width="1.57" stroke-linejoin="round" stroke-linecap="round" />
<path d="M918.4,390 L924,387.2" fill="none" stroke="#111" stroke-width="1.46" stroke-linejoin="round" stroke-linecap="round" />
<path d="M931,409.6 L940.8,404" fill="none" stroke="#111" stroke-width="1.46" stroke-linejoin="round" stroke-linecap="round" />
<path d="M926.8,408.2 Q934,418 938,430.6" fill="none" stroke="#111" stroke-width="1.46" stroke-linejoin="round" stroke-linecap="round" stroke-dasharray="4,2"/>
<path d="M947.8,401.2 Q953,410 956.2,420.8" fill="none" stroke="#111" stroke-width="1.46" stroke-linejoin="round" stroke-linecap="round" stroke-dasharray="5,2"/>
<path d="M926.8,441.8 L949.2,430.6" fill="none" stroke="#111" stroke-width="1.46" stroke-linejoin="round" stroke-linecap="round" />
<path d="M876,389 Q880,410 900,427" fill="none" stroke="#111" stroke-width="1.46" stroke-linejoin="round" stroke-linecap="round" />
<path d="M906,431 Q907,426 912,427 Q917,428 917,434" fill="#fff" stroke="#111" stroke-width="1.57" stroke-linejoin="round" stroke-linecap="round" />
<path d="M958,441 Q962,446 957,451" fill="none" stroke="#111" stroke-width="1.34" stroke-linejoin="round" stroke-linecap="round" />
<path d="M852.6,327.6 L897.4,352.8 L900.2,368.2 L856,393 L840,386.4 L828.8,382.2 L819,376.6 L813.4,369.6 L810.6,359.8 L812,351.4 L817.6,344.4 L828.8,338.1 L837.2,333.2 L848.4,328.3 Z" fill="#fff" stroke="#111" stroke-width="2.02" stroke-linejoin="round" stroke-linecap="round" />
<path d="M854,333 L893,355 L895,366 L857,387" fill="none" stroke="#111" stroke-width="1.12" stroke-linejoin="round" stroke-linecap="round" />
<path d="M885,352 L893,357 M889,367 L883,370" fill="none" stroke="#111" stroke-width="1.34" stroke-linejoin="round" stroke-linecap="round" />
<path d="M769.8,370 L769.8,362 Q771,357.5 776,355.5 L799,343 L806,339 L808,350 L800,362 L784,370 L772,372 Z" fill="#fff" stroke="none"/>
<path d="M769.8,371 L769.8,362 Q771,357.5 776,355.5 L799.2,343.1" fill="none" stroke="#111" stroke-width="2.02" stroke-linejoin="round" stroke-linecap="round" />
<path d="M771.0,359.5 Q776,355.0 800.0,345.0" fill="none" stroke="#111" stroke-width="1.12" stroke-linejoin="round" stroke-linecap="round" />
<path d="M771.3,361.4 Q776,356.9 800.2,347.3" fill="none" stroke="#111" stroke-width="1.12" stroke-linejoin="round" stroke-linecap="round" />
<path d="M771.6,363.3 Q776,358.8 800.4,349.6" fill="none" stroke="#111" stroke-width="1.12" stroke-linejoin="round" stroke-linecap="round" />
<path d="M771.9,365.2 Q776,360.7 800.6,351.9" fill="none" stroke="#111" stroke-width="1.12" stroke-linejoin="round" stroke-linecap="round" />
<path d="M772.2,367.1 Q776,362.6 800.8,354.2" fill="none" stroke="#111" stroke-width="1.12" stroke-linejoin="round" stroke-linecap="round" />
<path d="M772.5,369.0 Q776,364.5 801.0,356.5" fill="none" stroke="#111" stroke-width="1.12" stroke-linejoin="round" stroke-linecap="round" />
<path d="M771.5,360.3 L771.5,370.4" fill="none" stroke="#555" stroke-width="1.46" stroke-linejoin="round" stroke-linecap="round" />
<path d="M774.5,359.1 L774.5,369.4" fill="none" stroke="#555" stroke-width="1.46" stroke-linejoin="round" stroke-linecap="round" />
<path d="M777.5,357.9 L777.5,368.6" fill="none" stroke="#555" stroke-width="1.46" stroke-linejoin="round" stroke-linecap="round" />
<path d="M780.5,356.7 L780.5,367.6" fill="none" stroke="#555" stroke-width="1.46" stroke-linejoin="round" stroke-linecap="round" />
<path d="M767,372 L776,374 L800,362" fill="none" stroke="#111" stroke-width="1.57" stroke-linejoin="round" stroke-linecap="round" />
<path d="M790,369 L798,366" fill="none" stroke="#333" stroke-width="2.46" stroke-linejoin="round" stroke-linecap="round" />
<path d="M840,322.7 Q846,320 850,323 L852,328 L848.4,328.3 L837.2,333.2 L828.8,338.1 Q820,342 817.6,344.4 Q812,350 810.6,359.8 Q811,368 813.4,369.6 Q816,374 819,376.6 Q824,380 828.8,382.2 L840,386.4 L850,389 L846,396 L837.2,394.1 L828.8,392 Q822,390 816.2,387.8 Q810,385 806.4,380.8 Q801,376 800.1,371 Q797.5,366 798,361.2 Q798,356 799.4,351.4 Q801,345 805,340.9 Q810,336 816.2,333.2 L828.8,327.6 Z" fill="#fff" stroke="#111" stroke-width="2.02" stroke-linejoin="round" stroke-linecap="round" />
<path d="M799,343.5 Q818,332 840,322.7" fill="none" stroke="#111" stroke-width="3.36" stroke-linejoin="round" stroke-linecap="round" />
<ellipse cx="851" cy="366" rx="30" ry="14.5" fill="#fff" stroke="#111" stroke-width="1.8"/>
<path d="M821.5,366 Q822,374 832,376 L830,368 Z" fill="#111"/>
<path d="M880.5,366 Q880,373 871,375.5 L873,367 Z" fill="#111"/>
<ellipse cx="849.5" cy="377.6" rx="3" ry="2.2" fill="#111"/>
<ellipse cx="851" cy="362.5" rx="27.5" ry="12.5" fill="#fff" stroke="#111" stroke-width="1.6"/>
<ellipse cx="851" cy="357.5" rx="24" ry="11.5" fill="#fff" stroke="#111" stroke-width="1.6"/>
<path d="M833,347 Q833,342 838,341.2 L863.8,340 Q869,340.5 869.5,345 L869.2,353.5 Q868,356 864,358.5 L857,361.5 L838,360.5 Q832.3,359 832.3,355 Z" fill="#fff" stroke="#111" stroke-width="1.90" stroke-linejoin="round" stroke-linecap="round" />
<path d="M833,356 Q836,364 850,365.5 Q864,365 869,355" fill="none" stroke="#111" stroke-width="1.46" stroke-linejoin="round" stroke-linecap="round" />
<ellipse cx="851.8" cy="349.8" rx="11.6" ry="7" fill="#fff" stroke="#111" stroke-width="2.1"/>
<ellipse cx="852" cy="350.3" rx="9" ry="5.2" fill="none" stroke="#111" stroke-width="0.9"/>
<circle cx="836.8" cy="355.8" r="1.9" fill="#111"/>
<circle cx="864.1" cy="342.6" r="1.9" fill="#111"/>
<circle cx="844.3" cy="363.3" r="1.7" fill="#111"/>
<path d="M834.6,391 L920,444.2 Q930,449 933,452.9 Q935,458 930.8,460.4 L920,455.4 L836,403.6 Z" fill="#fff" stroke="#111" stroke-width="1.79" stroke-linejoin="round" stroke-linecap="round" />
<ellipse cx="933" cy="452.9" rx="5" ry="4.4" fill="#fff" stroke="#111" stroke-width="1.5"/>
<path d="M929,456 L937,456" fill="none" stroke="#111" stroke-width="1.23" stroke-linejoin="round" stroke-linecap="round" />
<path d="M781,478 L783,452 L790,430 L799.4,408 L806.6,416.2 Q812,411 822,409.2 L840.2,407.8 L920,455.4 L930.8,460.4 L944,458 L958.8,461 L958,542 L944,530 L940,518 L930,524 L910,514 L884,504 L868,505 L848,515 L820,512 L798,503 L784,500 Z" fill="#fff" stroke="#111" stroke-width="1.90" stroke-linejoin="round" stroke-linecap="round" />
<path d="M803.8,435.8 Q810,426 822,426 Q832,425 838.8,426 Q848,427 852.8,430.2 Q860,434 864,440 Q869,446 871,451.2 Q874,460 875.2,468" fill="none" stroke="#111" stroke-width="1.90" stroke-linejoin="round" stroke-linecap="round" />
<path d="M796.8,442.8 Q805,432 818,430" fill="none" stroke="#111" stroke-width="1.34" stroke-linejoin="round" stroke-linecap="round" />
<path d="M813,418 L817,412 M831.8,412 Q836,411 837,416 Q836,421 832,419 M840,415 L846,418 L840,421 Z" fill="none" stroke="#111" stroke-width="1.34" stroke-linejoin="round" stroke-linecap="round" />
<path d="M796,424 L795,430" fill="none" stroke="#111" stroke-width="1.34" stroke-linejoin="round" stroke-linecap="round" />
<path d="M782,452 L782,497 L789.5,501" fill="none" stroke="#111" stroke-width="1.68" stroke-linejoin="round" stroke-linecap="round" />
<circle cx="795.4" cy="492.3" r="1.4" fill="#fff" stroke="#111" stroke-width="1.1"/>
<path d="M867,446 L874,441.4 L883,443 L886.4,450 L886,456 L879,459.6 L870,458 Z" fill="#fff" stroke="#111" stroke-width="1.79" stroke-linejoin="round" stroke-linecap="round" />
<path d="M874,442 L876,458 M881,444 L880,458" fill="none" stroke="#111" stroke-width="1.23" stroke-linejoin="round" stroke-linecap="round" />
<ellipse cx="832.5" cy="467.9" rx="36.8" ry="43.5" transform="rotate(-13.1 832.5 467.9)" fill="#fff" stroke="#111" stroke-width="1.9"/>
<ellipse cx="826.1" cy="472.5" rx="26.9" ry="41" transform="rotate(-25.4 826.1 472.5)" fill="#fff" stroke="#111" stroke-width="1.9"/>
<ellipse cx="826.6" cy="472.6" rx="24.6" ry="38.4" transform="rotate(-25 826.6 472.6)" fill="none" stroke="#222" stroke-width="1.1"/>
<ellipse cx="827" cy="472.7" rx="22.6" ry="35" transform="rotate(-24.5 827 472.7)" fill="none" stroke="#444" stroke-width="3.2" stroke-dasharray="0.9,1.3"/>
<ellipse cx="827.9" cy="472.8" rx="18.6" ry="28.3" transform="rotate(-23.4 827.9 472.8)" fill="#fff" stroke="#111" stroke-width="2.8"/>
<ellipse cx="826.5" cy="473.8" rx="4.6" ry="4" transform="rotate(-25 826.5 473.8)" fill="#fff" stroke="#111" stroke-width="1.6"/>
<ellipse cx="823.8" cy="475.5" rx="3.6" ry="3.8" transform="rotate(-25 823.8 475.5)" fill="#fff" stroke="#111" stroke-width="1.6"/>
<circle cx="823.6" cy="475.6" r="1.3" fill="#111"/>
<ellipse cx="824.2" cy="456.3" rx="2.4" ry="3" transform="rotate(-25 824.2 456.3)" fill="#fff" stroke="#111" stroke-width="1.6"/>
<ellipse cx="812.5" cy="474.9" rx="2.4" ry="3" transform="rotate(-25 812.5 474.9)" fill="#fff" stroke="#111" stroke-width="1.6"/>
<ellipse cx="838" cy="490.6" rx="2.4" ry="3" transform="rotate(-25 838 490.6)" fill="#fff" stroke="#111" stroke-width="1.6"/>
<path d="M799,500 Q812,514 840,513" fill="none" stroke="#111" stroke-width="1.46" stroke-linejoin="round" stroke-linecap="round" />
<path d="M884,476 L905,470 L936,484 L940,487 L940,518 L930,524 L910,514 L884,504 Z" fill="#fff" stroke="#111" stroke-width="1.90" stroke-linejoin="round" stroke-linecap="round" />
<path d="M888,477 L905,473 L934,487 L934,516" fill="none" stroke="#111" stroke-width="1.23" stroke-linejoin="round" stroke-linecap="round" />
<path d="M905,480 L932,490 M905,484.5 L931,495 M906,489 L930,499" fill="none" stroke="#111" stroke-width="1.68" stroke-linejoin="round" stroke-linecap="round" />
<path d="M907,494 L917,505 L929,499" fill="none" stroke="#111" stroke-width="1.46" stroke-linejoin="round" stroke-linecap="round" />
<path d="M912,506 L931,514" fill="none" stroke="#111" stroke-width="1.57" stroke-linejoin="round" stroke-linecap="round" />
<path d="M874,503 L898,490" fill="none" stroke="#111" stroke-width="8.29" stroke-linejoin="round" stroke-linecap="round" />
<path d="M874,503 L898,490" fill="none" stroke="#fff" stroke-width="4.60" stroke-linejoin="round" stroke-linecap="round" />
<path d="M874.4,499.2 L876.4,505.2" fill="none" stroke="#111" stroke-width="1.12" stroke-linejoin="round" stroke-linecap="round" />
<path d="M876.4,498.2 L878.4,504.2" fill="none" stroke="#111" stroke-width="1.12" stroke-linejoin="round" stroke-linecap="round" />
<path d="M878.3,497.1 L880.3,503.1" fill="none" stroke="#111" stroke-width="1.12" stroke-linejoin="round" stroke-linecap="round" />
<path d="M880.2,496.1 L882.2,502.1" fill="none" stroke="#111" stroke-width="1.12" stroke-linejoin="round" stroke-linecap="round" />
<path d="M882.1,495.1 L884.1,501.1" fill="none" stroke="#111" stroke-width="1.12" stroke-linejoin="round" stroke-linecap="round" />
<ellipse cx="874" cy="503" rx="2.6" ry="3.6" transform="rotate(-30 874 503)" fill="#fff" stroke="#111" stroke-width="1.3"/>
<path d="M897,515 L921,502.5" fill="none" stroke="#111" stroke-width="8.29" stroke-linejoin="round" stroke-linecap="round" />
<path d="M897,515 L921,502.5" fill="none" stroke="#fff" stroke-width="4.60" stroke-linejoin="round" stroke-linecap="round" />
<path d="M897.4,511.2 L899.4,517.2" fill="none" stroke="#111" stroke-width="1.12" stroke-linejoin="round" stroke-linecap="round" />
<path d="M899.4,510.2 L901.4,516.2" fill="none" stroke="#111" stroke-width="1.12" stroke-linejoin="round" stroke-linecap="round" />
<path d="M901.3,509.2 L903.3,515.2" fill="none" stroke="#111" stroke-width="1.12" stroke-linejoin="round" stroke-linecap="round" />
<path d="M903.2,508.2 L905.2,514.2" fill="none" stroke="#111" stroke-width="1.12" stroke-linejoin="round" stroke-linecap="round" />
<path d="M905.1,507.2 L907.1,513.2" fill="none" stroke="#111" stroke-width="1.12" stroke-linejoin="round" stroke-linecap="round" />
<ellipse cx="897" cy="515" rx="2.6" ry="3.6" transform="rotate(-30 897 515)" fill="#fff" stroke="#111" stroke-width="1.3"/>
<path d="M940,458 L958.8,461 L958,542.3" fill="none" stroke="#111" stroke-width="1.57" stroke-linejoin="round" stroke-linecap="round" />
<path d="M960,465 L963,469.4 L962,497 L964,499.5 L964.7,543.5" fill="none" stroke="#111" stroke-width="2.24" stroke-linejoin="round" stroke-linecap="round" />
<ellipse cx="950" cy="470.6" rx="2.2" ry="3" transform="rotate(-20 950 470.6)" fill="#111"/>
<ellipse cx="948.8" cy="504.7" rx="2.4" ry="3.2" transform="rotate(-20 948.8 504.7)" fill="#fff" stroke="#111" stroke-width="1.5"/>
<path d="M960,459 Q963,456 967,458 Q970,462 967,466 L964,467" fill="#fff" stroke="#111" stroke-width="2.02" stroke-linejoin="round" stroke-linecap="round" />
<path d="M743.8,386.2 Q748,380 754.1,378.8 Q755,375 757.1,374.4 L764.5,373 L798.3,384.7 L802.8,392.1 L798.3,408.3 L793.9,440.7 L791,454 L783.6,461.3 L782.1,479 Q780,486 777.7,486.4 L771.8,486.4 L749.7,473.1 Q742,470 742.4,465.7 L740.9,458.4 L740.9,414.2 Z" fill="#fff" stroke="#111" stroke-width="2.02" stroke-linejoin="round" stroke-linecap="round" />
<path d="M748,384 L757,376 L796,388" fill="none" stroke="#111" stroke-width="1.12" stroke-linejoin="round" stroke-linecap="round" />
<path d="M760,381 L793,392" fill="none" stroke="#111" stroke-width="1.46" stroke-linejoin="round" stroke-linecap="round" />
<path d="M779.2,399.5 L775,430 L771.8,465.7" fill="none" stroke="#111" stroke-width="1.34" stroke-linejoin="round" stroke-linecap="round" stroke-dasharray="5,3"/>
<path d="M786.6,406.8 L782,440 L777.7,473.1" fill="none" stroke="#111" stroke-width="1.34" stroke-linejoin="round" stroke-linecap="round" stroke-dasharray="6,3"/>
<path d="M795,396 L788,455" fill="none" stroke="#111" stroke-width="1.23" stroke-linejoin="round" stroke-linecap="round" />
<path d="M749.7,473.1 L771.8,484" fill="none" stroke="#111" stroke-width="2.24" stroke-linejoin="round" stroke-linecap="round" />
<path d="M757.1,398 Q759,396 762,397 L772.5,401 Q775.5,403 774.8,407 L771,454 Q770.4,458.4 767,457.5 L754,450 Q751.2,448 751.5,444 Z" fill="#fff" stroke="#111" stroke-width="1.68" stroke-linejoin="round" stroke-linecap="round" />
<path d="M753,401 L749,444 M755,400 L751.5,446" fill="none" stroke="#111" stroke-width="1.12" stroke-linejoin="round" stroke-linecap="round" />
<circle cx="759.0" cy="404.5" r="1.35" fill="#111"/>
<circle cx="764.5" cy="406.3" r="1.35" fill="#111"/>
<circle cx="770.0" cy="408.1" r="1.35" fill="#111"/>
<circle cx="758.3" cy="411.1" r="1.35" fill="#111"/>
<circle cx="763.8" cy="412.9" r="1.35" fill="#111"/>
<circle cx="769.3" cy="414.7" r="1.35" fill="#111"/>
<circle cx="757.6" cy="417.7" r="1.35" fill="#111"/>
<circle cx="763.1" cy="419.5" r="1.35" fill="#111"/>
<circle cx="768.6" cy="421.3" r="1.35" fill="#111"/>
<circle cx="756.9" cy="424.3" r="1.35" fill="#111"/>
<circle cx="762.4" cy="426.1" r="1.35" fill="#111"/>
<circle cx="767.9" cy="427.9" r="1.35" fill="#111"/>
<circle cx="756.2" cy="430.9" r="1.35" fill="#111"/>
<circle cx="761.7" cy="432.7" r="1.35" fill="#111"/>
<circle cx="767.2" cy="434.5" r="1.35" fill="#111"/>
<circle cx="755.5" cy="437.5" r="1.35" fill="#111"/>
<circle cx="761.0" cy="439.3" r="1.35" fill="#111"/>
<circle cx="766.5" cy="441.1" r="1.35" fill="#111"/>
<circle cx="754.8" cy="444.1" r="1.35" fill="#111"/>
<circle cx="760.3" cy="445.9" r="1.35" fill="#111"/>
<circle cx="765.8" cy="447.7" r="1.35" fill="#111"/>
<circle cx="744.6" cy="418.6" r="1.9" fill="#111"/>
<circle cx="777" cy="430.4" r="2" fill="#111"/>
<circle cx="752.7" cy="459.1" r="1.8" fill="#111"/>
<circle cx="768.9" cy="396.5" r="2.4" fill="#fff" stroke="#111" stroke-width="1.3"/>
<circle cx="801" cy="398.5" r="3.4" fill="#fff" stroke="#111" stroke-width="1.8"/>
<circle cx="801" cy="398.5" r="1.3" fill="#111"/>
<path d="M818,392 Q820,387 826,388 L833,391 Q835,395 831,397.5 L823,397 Z" fill="#fff" stroke="#111" stroke-width="1.46" stroke-linejoin="round" stroke-linecap="round" />
<circle cx="823.3" cy="392.3" r="2.1" fill="#111"/>
<path d="M824,401 Q825,396 830,397 Q834,399 833,404 Q831,407 827,406 Z" fill="#fff" stroke="#111" stroke-width="1.46" stroke-linejoin="round" stroke-linecap="round" />
<circle cx="828.7" cy="401.8" r="2.2" fill="#111"/>
<path d="M798.5,424 Q795.5,445 793.5,462 L791,496" fill="none" stroke="#111" stroke-width="2.58" stroke-linejoin="round" stroke-linecap="round" />
<path d="M801,430 Q798,450 796,470" fill="none" stroke="#111" stroke-width="1.12" stroke-linejoin="round" stroke-linecap="round" />
<polyline points="758,350 787,332.6 787.5,406 798,400" class="t" stroke-width="1.32"/>
<polyline points="741.5,412.3 767,397.6" class="t" stroke-width="1.32"/>
<polyline points="741.5,449.5 775,431.5" class="t" stroke-width="1.32"/>
<polyline points="741.5,465 751,460" class="t" stroke-width="1.32"/>
<path d="M719,369 L755,349.5" fill="none" stroke="#111" stroke-width="5.00" stroke-linejoin="round" stroke-linecap="round" />
<path d="M719,369 L755,349.5" fill="none" stroke="#fff" stroke-width="2.40" stroke-linejoin="round" stroke-linecap="round" />
<defs><filter id="spk" x="0" y="0" width="100%" height="100%" filterUnits="userSpaceOnUse"><feTurbulence type="fractalNoise" baseFrequency="0.45" numOctaves="2" seed="11"/><feColorMatrix type="matrix" values="0 0 0 0 1  0 0 0 0 1  0 0 0 0 1  7 0 0 0 -4.1"/></filter><filter id="spk2" x="0" y="0" width="100%" height="100%" filterUnits="userSpaceOnUse"><feTurbulence type="fractalNoise" baseFrequency="0.5" numOctaves="2" seed="4"/><feColorMatrix type="matrix" values="0 0 0 0 0.07  0 0 0 0 0.07  0 0 0 0 0.07  7 0 0 0 -2.9"/></filter><clipPath id="c10a"><path d="M701,417 L731,423 Q734,425 733.5,429 L732,452 L728,459 L697,447 L699,421 Z"/></clipPath><clipPath id="c10b"><path d="M697,446 L728,458 L723.5,463 L722,484 L719,491 L710,492 L695,486 L693,478 L694,458 Z"/></clipPath></defs>
<path d="M698.7,417.4 Q702,413 707.7,413.5 L732.6,420.8 Q735.5,423 734.8,427.6 L732.6,452.4 L729.2,458 L723.5,462.6 L722.4,484 Q721,491 719,492 L710,493 L694.2,487.4 Q692,484 692,478.4 L693,459.2 L696.4,444.5 Z" fill="#fff" stroke="#111" stroke-width="1.80" stroke-linejoin="round" stroke-linecap="round" />
<path d="M701,417 L731,423 Q734,425 733.5,429 L732,452 L728,459 L697,447 L699,421 Z" fill="#161616"/>
<rect x="690" y="410" width="50" height="55" fill="#fff" filter="url(#spk)" clip-path="url(#c10a)"/>
<rect x="690" y="440" width="40" height="56" fill="#000" filter="url(#spk2)" clip-path="url(#c10b)"/>
<path d="M703,430.0 L729,435.5" fill="none" stroke="#999" stroke-width="0.90" stroke-linejoin="round" stroke-linecap="round" />
<path d="M703,434.2 L729,439.7" fill="none" stroke="#999" stroke-width="0.90" stroke-linejoin="round" stroke-linecap="round" />
<path d="M703,438.4 L729,443.9" fill="none" stroke="#999" stroke-width="0.90" stroke-linejoin="round" stroke-linecap="round" />
<path d="M703,442.6 L729,448.1" fill="none" stroke="#999" stroke-width="0.90" stroke-linejoin="round" stroke-linecap="round" />
<path d="M703,446.8 L729,452.3" fill="none" stroke="#999" stroke-width="0.90" stroke-linejoin="round" stroke-linecap="round" />
<path d="M703,451.0 L729,456.5" fill="none" stroke="#999" stroke-width="0.90" stroke-linejoin="round" stroke-linecap="round" />
<path d="M696.4,444.5 Q692,443 690.5,449 L689,472 Q689.5,480 694,483 L695.5,478 L696,448 Z" fill="#fff" stroke="#111" stroke-width="1.40" stroke-linejoin="round" stroke-linecap="round" />
<path d="M692.5,452 L692,476" fill="none" stroke="#666" stroke-width="1.00" stroke-linejoin="round" stroke-linecap="round" />
<circle cx="727.5" cy="454.5" r="3" fill="#fff" stroke="#111" stroke-width="1.6"/>
<circle cx="697" cy="479" r="3.2" fill="#fff" stroke="#111" stroke-width="1.5"/>
<path d="M655.6,448.6 Q664,444 673.6,442.3 Q676,440 680.8,444.1 L689.8,452.2 L689.8,481 L684.4,500.8 L677.2,517 Q674,519 670,517 L662.8,513.4 L652,509.8 Q649,505 650.2,495.4 L653.8,459.4 Z" fill="#fff" stroke="#111" stroke-width="1.50" stroke-linejoin="round" stroke-linecap="round" />
<circle cx="676.3" cy="447.7" r="1.8" fill="#fff" stroke="#111" stroke-width="1.2"/>
<path d="M658,456 Q669,452 683,459 L682.6,493 L678,506 L656,497 Z" fill="#fff" stroke="#111" stroke-width="1.30" stroke-linejoin="round" stroke-linecap="round" />
<path d="M660,462 Q670,458 681,465" fill="none" stroke="#111" stroke-width="1.00" stroke-linejoin="round" stroke-linecap="round" stroke-dasharray="2,1.6"/>
<path d="M656,497 L678,506 M657,490 L676,500 L680,492" fill="none" stroke="#111" stroke-width="1.10" stroke-linejoin="round" stroke-linecap="round" />
<path d="M682,462 L679,490" fill="none" stroke="#111" stroke-width="0.90" stroke-linejoin="round" stroke-linecap="round" />
<circle cx="652" cy="474" r="2.2" fill="#fff" stroke="#111" stroke-width="1.2"/>
<circle cx="655.6" cy="497.2" r="1.6" fill="#fff" stroke="#111" stroke-width="1.1"/>
<circle cx="684.4" cy="482" r="1.8" fill="#fff" stroke="#111" stroke-width="1.1"/>
<circle cx="661" cy="510.7" r="1.3" fill="#111"/>
<path d="M600,490 L634,472" fill="none" stroke="#111" stroke-width="5.40" stroke-linejoin="round" stroke-linecap="round" />
<path d="M600,490 L634,472" fill="none" stroke="#fff" stroke-width="2.60" stroke-linejoin="round" stroke-linecap="round" />
<path d="M615.2,479.3 L616.8,483.7" fill="none" stroke="#111" stroke-width="0.90" stroke-linejoin="round" stroke-linecap="round" />
<path d="M617.8,477.9 L619.4,482.3" fill="none" stroke="#111" stroke-width="0.90" stroke-linejoin="round" stroke-linecap="round" />
<path d="M620.4,476.6 L622.0,481.0" fill="none" stroke="#111" stroke-width="0.90" stroke-linejoin="round" stroke-linecap="round" />
<path d="M623.0,475.2 L624.6,479.6" fill="none" stroke="#111" stroke-width="0.90" stroke-linejoin="round" stroke-linecap="round" />
<path d="M625.6,473.8 L627.2,478.2" fill="none" stroke="#111" stroke-width="0.90" stroke-linejoin="round" stroke-linecap="round" />
<path d="M628.2,472.4 L629.8,476.8" fill="none" stroke="#111" stroke-width="0.90" stroke-linejoin="round" stroke-linecap="round" />
<path d="M630.8,471.1 L632.4,475.5" fill="none" stroke="#111" stroke-width="0.90" stroke-linejoin="round" stroke-linecap="round" />
<path d="M588.5,490 L593,485.5 L599,486 L601,492 L597,499 L590.5,498.5 Z" fill="#fff" stroke="#111" stroke-width="1.70" stroke-linejoin="round" stroke-linecap="round" />
<path d="M594,488 L595,497" fill="none" stroke="#111" stroke-width="1.00" stroke-linejoin="round" stroke-linecap="round" />
<path d="M610,497.5 L620.5,491.8" fill="none" stroke="#111" stroke-width="4.60" stroke-linejoin="round" stroke-linecap="round" />
<path d="M610,497.5 L620.5,491.8" fill="none" stroke="#fff" stroke-width="2.20" stroke-linejoin="round" stroke-linecap="round" />
<ellipse cx="610" cy="497.5" rx="3.2" ry="4" transform="rotate(-30 610 497.5)" fill="#fff" stroke="#111" stroke-width="1.6"/>
<path d="M636,510 L646.6,503.5" fill="none" stroke="#111" stroke-width="4.60" stroke-linejoin="round" stroke-linecap="round" />
<path d="M636,510 L646.6,503.5" fill="none" stroke="#fff" stroke-width="2.20" stroke-linejoin="round" stroke-linecap="round" />
<ellipse cx="636" cy="510" rx="3.2" ry="4" transform="rotate(-30 636 510)" fill="#fff" stroke="#111" stroke-width="1.6"/>
<path d="M616,536 L625.9,532.3" fill="none" stroke="#111" stroke-width="4.60" stroke-linejoin="round" stroke-linecap="round" />
<path d="M616,536 L625.9,532.3" fill="none" stroke="#fff" stroke-width="2.20" stroke-linejoin="round" stroke-linecap="round" />
<ellipse cx="616" cy="536" rx="3.2" ry="4" transform="rotate(-30 616 536)" fill="#fff" stroke="#111" stroke-width="1.6"/>
<ellipse cx="549.4" cy="638.3" rx="32.2" ry="47.8" transform="rotate(-31.1 549.4 638.3)" fill="none" stroke="#111" stroke-width="1.9"/>
<ellipse cx="551.5" cy="637.5" rx="27.5" ry="45.5" transform="rotate(-28.5 551.5 637.5)" fill="none" stroke="#111" stroke-width="1.2"/>
<ellipse cx="552.3" cy="636.2" rx="21.5" ry="43.05" transform="rotate(-25.7 552.3 636.2)" fill="none" stroke="#111" stroke-width="1.7"/>
<path d="M567.4,683.8 L582.5,685 L583.9,687.9 Q583,689 581,689 L568.8,688.6 Z" fill="#fff" stroke="#111" stroke-width="1.50" stroke-linejoin="round" stroke-linecap="round" />
<path d="M534.4,586 L513.8,602.6" fill="none" stroke="#111" stroke-width="1.40" stroke-linejoin="round" stroke-linecap="round" />
<path d="M541.3,587.5 L524.8,597" fill="none" stroke="#111" stroke-width="1.40" stroke-linejoin="round" stroke-linecap="round" />
<ellipse cx="542" cy="580.5" rx="6.6" ry="7.2" transform="rotate(-30 542 580.5)" fill="#fff" stroke="#111" stroke-width="1.6"/>
<ellipse cx="539.3" cy="582" rx="3.6" ry="4.2" transform="rotate(-30 539.3 582)" fill="#fff" stroke="#111" stroke-width="1.4"/>
<circle cx="539" cy="582.3" r="1.2" fill="#111"/>
<ellipse cx="566.5" cy="569" rx="4" ry="4.6" fill="#fff" stroke="#111" stroke-width="1.6"/>
<circle cx="566" cy="569" r="1.5" fill="#111"/>
<path d="M722,728.5 L738,720" fill="none" stroke="#111" stroke-width="6.40" stroke-linejoin="round" stroke-linecap="round" />
<path d="M722,728.5 L738,720" fill="none" stroke="#fff" stroke-width="3.80" stroke-linejoin="round" stroke-linecap="round" />
<path d="M722.5,725.0 L724.5,730.4" fill="none" stroke="#111" stroke-width="1.00" stroke-linejoin="round" stroke-linecap="round" />
<path d="M725.1,723.6 L727.1,729.0" fill="none" stroke="#111" stroke-width="1.00" stroke-linejoin="round" stroke-linecap="round" />
<path d="M727.7,722.3 L729.7,727.7" fill="none" stroke="#111" stroke-width="1.00" stroke-linejoin="round" stroke-linecap="round" />
<path d="M730.3,720.9 L732.3,726.3" fill="none" stroke="#111" stroke-width="1.00" stroke-linejoin="round" stroke-linecap="round" />
<path d="M732.9,719.5 L734.9,724.9" fill="none" stroke="#111" stroke-width="1.00" stroke-linejoin="round" stroke-linecap="round" />
<path d="M735.5,718.1 L737.5,723.6" fill="none" stroke="#111" stroke-width="1.00" stroke-linejoin="round" stroke-linecap="round" />
<ellipse cx="741" cy="718" rx="6.3" ry="9.4" transform="rotate(-25 741 718)" fill="#fff" stroke="#111" stroke-width="1.7"/>
<ellipse cx="741.5" cy="717.5" rx="3.4" ry="6" transform="rotate(-25 741.5 717.5)" fill="none" stroke="#111" stroke-width="1.2"/>
<path d="M653,729.6 L688,743.5" fill="none" stroke="#111" stroke-width="9.40" stroke-linejoin="round" stroke-linecap="round" />
<path d="M653,729.6 L688,743.5" fill="none" stroke="#fff" stroke-width="6.40" stroke-linejoin="round" stroke-linecap="round" />
<path d="M656.5,732 L684,742.5" fill="none" stroke="#333" stroke-width="2.00" stroke-linejoin="round" stroke-linecap="round" stroke-dasharray="1.6,0.8"/>
<ellipse cx="692.5" cy="745" rx="7" ry="9.4" transform="rotate(-25 692.5 745)" fill="#fff" stroke="#111" stroke-width="1.8"/>
<ellipse cx="690.8" cy="745.6" rx="3.8" ry="5.6" transform="rotate(-25 690.8 745.6)" fill="#fff" stroke="#111" stroke-width="1.4"/>
<path d="M436.5,676 L447,670" fill="none" stroke="#111" stroke-width="5.80" stroke-linejoin="round" stroke-linecap="round" />
<path d="M436.5,676 L447,670" fill="none" stroke="#fff" stroke-width="3.00" stroke-linejoin="round" stroke-linecap="round" />
<path d="M446.5,662 Q448,657 452,656.5 Q455,655 458,657 Q462,657.5 463.5,661 Q465.5,664 464.5,668 Q465,672 462,675 Q459,678.5 455,678 Q451,679 448.5,676 Q445.5,674 445.5,670 Q444.5,666 446.5,662 Z" fill="#fff" stroke="#111" stroke-width="1.80" stroke-linejoin="round" stroke-linecap="round" />
<ellipse cx="450" cy="668" rx="3.4" ry="6" transform="rotate(-25 450 668)" fill="#fff" stroke="#111" stroke-width="1.4"/>
<path d="M454,660 Q458,666 456,676 M458.5,659.5 Q462,666 460,675" fill="none" stroke="#444" stroke-width="1.00" stroke-linejoin="round" stroke-linecap="round" />
<circle cx="450.5" cy="667.5" r="1.1" fill="#666"/>
<path d="M401,685 Q396,688 398,695 L404,718 Q405,724 409,723.5 Q412,722 410,719 L412,704 Q415,692 413,687 Q409,682 401,685 Z" fill="#fff" stroke="#111" stroke-width="1.60" stroke-linejoin="round" stroke-linecap="round" />
<path d="M404,684.5 Q412,683 414.5,690 Q416,697 413,706" fill="none" stroke="#111" stroke-width="1.10" stroke-linejoin="round" stroke-linecap="round" />
<ellipse cx="403.5" cy="691.5" rx="3.3" ry="4.2" transform="rotate(-20 403.5 691.5)" fill="#fff" stroke="#111" stroke-width="1.5"/>
<path d="M402,697 L406,716" fill="none" stroke="#111" stroke-width="0.90" stroke-linejoin="round" stroke-linecap="round" />
<ellipse cx="302.7" cy="673.3" rx="6.8" ry="9.6" transform="rotate(-15 302.7 673.3)" fill="#fff" stroke="#111" stroke-width="1.5"/>
<ellipse cx="299.5" cy="674.5" rx="6.8" ry="9.6" transform="rotate(-15 299.5 674.5)" fill="#fff" stroke="#111" stroke-width="1.6"/>
<circle cx="299.5" cy="674.5" r="1.6" fill="#111"/>
<ellipse cx="372.2" cy="713.3" rx="7" ry="9.6" transform="rotate(-15 372.2 713.3)" fill="#fff" stroke="#111" stroke-width="1.5"/>
<ellipse cx="369" cy="714.5" rx="7" ry="9.6" transform="rotate(-15 369 714.5)" fill="#fff" stroke="#111" stroke-width="1.6"/>
<circle cx="369" cy="714.5" r="1.6" fill="#111"/>
<ellipse cx="340" cy="733.5" rx="8.6" ry="13.6" transform="rotate(-15 340 733.5)" fill="#fff" stroke="#111" stroke-width="1.6"/>
<ellipse cx="336.5" cy="735" rx="8.6" ry="13.6" transform="rotate(-15 336.5 735)" fill="#fff" stroke="#111" stroke-width="1.6"/>
<ellipse cx="333" cy="736.3" rx="8.6" ry="13.6" transform="rotate(-15 333 736.3)" fill="#fff" stroke="#111" stroke-width="1.9"/>
<ellipse cx="332.6" cy="736.5" rx="5.6" ry="9" transform="rotate(-15 332.6 736.5)" fill="#fff" stroke="#111" stroke-width="1.3"/>
<path d="M330,732 L336,734 L331,741 Z" fill="#fff" stroke="#111" stroke-width="1.30" stroke-linejoin="round" stroke-linecap="round" />
<polygon points="251.7,460 350,405 378.3,458.3 281.7,511.7" fill="#fff" stroke="#111" stroke-width="1.5" stroke-linejoin="round"/>
<path d="M279.5,538 C279.5,528 285,522 296,518.4 L376,476.8 C377.5,476.0 381.9,473.6 385.2,472.1 C388.5,470.6 391.8,468.5 396.0,467.6 C400.2,466.7 405.9,465.8 410.4,466.7 C414.9,467.6 419.4,470.1 423.0,473.0 C426.6,475.9 429.9,479.6 432.0,483.8 C434.1,488.0 435.6,493.1 435.6,498.2 C435.6,503.3 434.1,509.6 432.0,514.4 C429.9,519.2 426.6,523.4 423.0,527.0 C419.4,530.6 414.2,533.6 410.4,536.0 C406.6,538.4 401.7,540.4 400.0,541.3  L322.2,581 Q311,587 304.2,581 L295.2,572 Q283,555 279.5,540 Z" fill="#fff" stroke="#111" stroke-width="1.60" stroke-linejoin="round" stroke-linecap="round" />
<path d="M291.6,547.7 L388.8,491.9 C396,488 403.5,492 404.1,498.2 C405,505 401,511 396,514.4 L303.3,568.4" fill="none" stroke="#111" stroke-width="1.10" stroke-linejoin="round" stroke-linecap="round" />
<path d="M280.8,541.4 L291.6,548 L302.4,577.4" fill="none" stroke="#111" stroke-width="1.20" stroke-linejoin="round" stroke-linecap="round" />
<polygon points="289,556 279.8,560.4 263.6,561.2 257.1,566 244.1,593.6 231.2,622.7 224.7,638.9 224.7,645.4 231.2,658.3 239.3,672.9 247.4,684.2 252,692 262,708 270,706.9 271.7,698.8 266.8,687.5 260.3,679.4 250.6,668 240.9,651.9 236.9,643.8 239.3,635.7 253.9,606.5 265.2,577.4 268.4,575 283,572.5 292.7,567.7" fill="#fff" stroke="none"/>
<path d="M289.0,556.0 C287.5,556.7 284.0,559.5 279.8,560.4 C275.6,561.3 267.4,560.3 263.6,561.2 C259.8,562.1 260.4,560.6 257.1,566.0 C253.9,571.4 248.4,584.1 244.1,593.6 C239.8,603.1 234.4,615.2 231.2,622.7 C228.0,630.2 225.8,635.1 224.7,638.9 C223.6,642.7 223.6,642.2 224.7,645.4 C225.8,648.6 228.8,653.7 231.2,658.3 C233.6,662.9 236.6,668.6 239.3,672.9 C242.0,677.2 245.3,681.0 247.4,684.2 C249.5,687.4 251.2,690.7 252.0,692.0 " fill="none" stroke="#111" stroke-width="1.80" stroke-linejoin="round" stroke-linecap="round" />
<path d="M292.7,567.7 C291.1,568.5 287.1,571.3 283.0,572.5 C278.9,573.7 271.4,574.2 268.4,575.0 C265.4,575.8 267.6,572.1 265.2,577.4 C262.8,582.6 258.2,596.8 253.9,606.5 C249.6,616.2 242.1,629.5 239.3,635.7 C236.5,641.9 236.6,641.1 236.9,643.8 C237.2,646.5 238.6,647.9 240.9,651.9 C243.2,655.9 247.4,663.4 250.6,668.0 C253.8,672.6 257.6,676.1 260.3,679.4 C263.0,682.6 264.9,684.3 266.8,687.5 C268.7,690.7 271.2,695.6 271.7,698.8 C272.2,702.0 270.3,705.5 270.0,706.9 " fill="none" stroke="#111" stroke-width="1.50" stroke-linejoin="round" stroke-linecap="round" />
<path d="M266.0,580.0 C264.2,584.7 259.2,598.5 255.0,608.0 C250.8,617.5 242.9,632.2 240.5,637.0 " fill="none" stroke="#777" stroke-width="2.20" stroke-linejoin="round" stroke-linecap="round" />
<path d="M239.3,674.5 L247.4,671.3 M249,684.2 L258.7,681" fill="none" stroke="#111" stroke-width="1.30" stroke-linejoin="round" stroke-linecap="round" />
<circle cx="241.7" cy="640.3" r="1.8" fill="#111"/>
<ellipse cx="255.5" cy="699.5" rx="10" ry="9.6" transform="rotate(-20 255.5 699.5)" fill="#fff" stroke="#111" stroke-width="1.7"/>
<ellipse cx="252.5" cy="701" rx="6.6" ry="7.4" transform="rotate(-20 252.5 701)" fill="#fff" stroke="#111" stroke-width="1.6"/>
<ellipse cx="252" cy="701.3" rx="3.6" ry="4.4" transform="rotate(-20 252 701.3)" fill="#fff" stroke="#111" stroke-width="1.3"/>
<path d="M222.5,651 L230.5,646.5" fill="none" stroke="#111" stroke-width="4.00" stroke-linejoin="round" stroke-linecap="round" />
<path d="M223.5,650.3 L229.5,647" fill="none" stroke="#fff" stroke-width="1.40" stroke-linejoin="round" stroke-linecap="round" />
<path d="M184,675 L193,669" fill="none" stroke="#111" stroke-width="5.40" stroke-linejoin="round" stroke-linecap="round" />
<path d="M184,675 L193,669" fill="none" stroke="#fff" stroke-width="3.00" stroke-linejoin="round" stroke-linecap="round" />
<ellipse cx="149.5" cy="693" rx="3.5" ry="3.6" fill="#fff" stroke="#111" stroke-width="1.6"/>
<path d="M210,707 L226,701" fill="none" stroke="#111" stroke-width="5.60" stroke-linejoin="round" stroke-linecap="round" />
<path d="M210,707 L226,701" fill="none" stroke="#fff" stroke-width="3.00" stroke-linejoin="round" stroke-linecap="round" />
<ellipse cx="226" cy="700.5" rx="2.8" ry="3.4" fill="#fff" stroke="#111" stroke-width="1.3"/>
<path d="M143.5,867.5 L143.5,850 Q144,845 149,836 L172,795 L184.6,770 L187.8,765.7 L207.7,755.2 L244.5,772 L256,754 Q259,750 264.4,749 L277,745.75 Q285,746 289.6,751 Q295,756 296,761.5 L298,795 L304.3,799.3 L305.4,814 L317,818 Q323,821 326,828 Q328,835 326,848 L321,874 Q317,892 311,906 Q306,917 298,923 Q290,929 275,930 Q260,929 245,924 Q228,918 215,912 L175,888 Z" fill="#fff" stroke="#111" stroke-width="1.90" stroke-linejoin="round" stroke-linecap="round" />
<path d="M188.8,768.9 L233,791 L244.5,772" fill="none" stroke="#111" stroke-width="1.40" stroke-linejoin="round" stroke-linecap="round" />
<path d="M172,796 L251,842" fill="none" stroke="#111" stroke-width="1.40" stroke-linejoin="round" stroke-linecap="round" />
<path d="M279,856 Q300,862 315,860" fill="none" stroke="#111" stroke-width="1.30" stroke-linejoin="round" stroke-linecap="round" />
<path d="M154,833 L273,903 Q290,909.5 305,908" fill="none" stroke="#333" stroke-width="1.00" stroke-linejoin="round" stroke-linecap="round" />
<path d="M155.0,833.6 L173.0,844.2" fill="none" stroke="#222" stroke-width="2.00" stroke-linejoin="round" stroke-linecap="round" stroke-dasharray="2.5,0.8"/>
<path d="M180.0,848.3 L189.0,853.6" fill="none" stroke="#222" stroke-width="2.00" stroke-linejoin="round" stroke-linecap="round" stroke-dasharray="2.5,0.8"/>
<path d="M198.0,858.9 L210.0,865.9" fill="none" stroke="#222" stroke-width="2.00" stroke-linejoin="round" stroke-linecap="round" stroke-dasharray="2.5,0.8"/>
<path d="M223.0,873.6 L240.0,883.6" fill="none" stroke="#222" stroke-width="2.00" stroke-linejoin="round" stroke-linecap="round" stroke-dasharray="2.5,0.8"/>
<path d="M250.0,889.4 L265.0,898.3" fill="none" stroke="#222" stroke-width="2.00" stroke-linejoin="round" stroke-linecap="round" stroke-dasharray="2.5,0.8"/>
<path d="M283,906.5 Q292,909.5 303,908.5" fill="none" stroke="#222" stroke-width="2.00" stroke-linejoin="round" stroke-linecap="round" stroke-dasharray="2.5,0.8"/>
<circle cx="382.5" cy="202.5" r="1.1" fill="#777"/>
<circle cx="281.2" cy="961.8" r="0.9" fill="#aaa"/>
<path d="M321,834 Q318,860 313,885 Q309,905 305,918" fill="none" stroke="#111" stroke-width="1.30" stroke-linejoin="round" stroke-linecap="round" />
<path d="M281,757 Q285,790 287,820" fill="none" stroke="#111" stroke-width="1.30" stroke-linejoin="round" stroke-linecap="round" />
<path d="M287,820 Q300,830 315,830" fill="none" stroke="#111" stroke-width="1.30" stroke-linejoin="round" stroke-linecap="round" />
<circle cx="277" cy="766.75" r="1.8" fill="#fff" stroke="#111" stroke-width="1.3"/>
<path d="M263,776 L275,768" fill="none" stroke="#111" stroke-width="1.10" stroke-linejoin="round" stroke-linecap="round" />
<path d="M255,836 Q261,832 267,834 Q271,836 273,840 L279,860 L285,876 Q286,884 283,886 L275,886 L247,872 Q240,866 241,860 L243,852 Z" fill="#fff" stroke="#111" stroke-width="1.50" stroke-linejoin="round" stroke-linecap="round" />
<ellipse cx="260" cy="854" rx="3.4" ry="4.6" transform="rotate(-20 260 854)" fill="#fff" stroke="#111" stroke-width="1.3"/>
<path d="M253,845 Q262,842 271,845 M270,839 L272,846" fill="none" stroke="#111" stroke-width="1.00" stroke-linejoin="round" stroke-linecap="round" />
<path d="M280,866 L282,872" fill="none" stroke="#111" stroke-width="1.00" stroke-linejoin="round" stroke-linecap="round" />
<polyline points="153,903 258,851" class="t" stroke-width="1.32"/>
<polyline points="203.5,912.7 278,868" class="t" stroke-width="1.32"/>
<path d="M375,842 L379,839 L385,840 L387,846 L384,851 L378,851 L375,847 Z" fill="#fff" stroke="#111" stroke-width="1.60" stroke-linejoin="round" stroke-linecap="round" />
<circle cx="380.6" cy="845.5" r="2.2" fill="none" stroke="#111" stroke-width="1.2"/>
<path d="M375.2,874.7 L385.4,868.9 L393,868.9 L399.5,872.8 L399.5,876 L394.3,885.5 L384.1,890 L375.2,886.1 L374.6,878.5 Z" fill="#fff" stroke="#111" stroke-width="1.70" stroke-linejoin="round" stroke-linecap="round" />
<path d="M385.4,868.9 L394.5,873.5 L399.5,872.8 M394.5,873.5 L394.3,885.5" fill="none" stroke="#111" stroke-width="1.20" stroke-linejoin="round" stroke-linecap="round" />
<ellipse cx="388.6" cy="881.5" rx="4.4" ry="6.2" transform="rotate(-15 388.6 881.5)" fill="#fff" stroke="#777" stroke-width="1.1"/>
<ellipse cx="388.8" cy="882.2" rx="2.2" ry="2.8" fill="#111"/>
<path d="M349,902.5 L391,925" fill="none" stroke="#111" stroke-width="4.80" stroke-linejoin="round" stroke-linecap="round" />
<path d="M350,903 L390,924.5" fill="none" stroke="#999" stroke-width="1.20" stroke-linejoin="round" stroke-linecap="round" stroke-dasharray="1.2,1.2"/>
<path d="M389,921.5 L400,927.5 Q404.5,930 403,934.5 L401,936 L387,929 Z" fill="#fff" stroke="#111" stroke-width="1.50" stroke-linejoin="round" stroke-linecap="round" />
<ellipse cx="401.8" cy="932" rx="2.6" ry="3.6" transform="rotate(-30 401.8 932)" fill="#fff" stroke="#111" stroke-width="1.4"/>
<path d="M186,914 L191,909 L198,909 L203,914 L202,921 L196,925 L189,924 L185,919 Z" fill="#fff" stroke="#111" stroke-width="1.60" stroke-linejoin="round" stroke-linecap="round" />
<circle cx="194" cy="917" r="3" fill="#fff" stroke="#111" stroke-width="1.3"/>
<path d="M190,915 L198,919" fill="none" stroke="#111" stroke-width="1.00" stroke-linejoin="round" stroke-linecap="round" />
<path d="M138.5,912 L150,906" fill="none" stroke="#111" stroke-width="10.50" stroke-linejoin="round" stroke-linecap="round" />
<path d="M138.5,912 L150,906" fill="none" stroke="#fff" stroke-width="7.60" stroke-linejoin="round" stroke-linecap="round" />
<ellipse cx="150.2" cy="906.3" rx="3.6" ry="5.4" transform="rotate(-25 150.2 906.3)" fill="#fff" stroke="#111" stroke-width="1.5"/>
<ellipse cx="138.4" cy="912.2" rx="3.6" ry="5.4" transform="rotate(-25 138.4 912.2)" fill="#fff" stroke="#111" stroke-width="1.6"/>
<path d="M106,904.5 L110,903.5 L114,910" fill="none" stroke="#111" stroke-width="3.00" stroke-linejoin="round" stroke-linecap="round" />
<path d="M106,904.5 L110,903.5 L114,910" fill="none" stroke="#fff" stroke-width="1.10" stroke-linejoin="round" stroke-linecap="round" />
<ellipse cx="113.5" cy="928.0" rx="9" ry="12.4" transform="rotate(-20 113.5 928.0)" fill="none" stroke="#111" stroke-width="1.7"/>
<ellipse cx="116.1" cy="926.7" rx="9" ry="12.4" transform="rotate(-20 116.1 926.7)" fill="none" stroke="#111" stroke-width="1.5"/>
<ellipse cx="118.7" cy="925.4" rx="9" ry="12.4" transform="rotate(-20 118.7 925.4)" fill="none" stroke="#111" stroke-width="1.5"/>
<ellipse cx="121.1" cy="924.2" rx="9" ry="12.4" transform="rotate(-20 121.1 924.2)" fill="#fff" stroke="#111" stroke-width="1.7"/>
<ellipse cx="121.1" cy="924.2" rx="9" ry="12.4" transform="rotate(-20 121.1 924.2)" fill="none" stroke="#111" stroke-width="1.7"/>
<ellipse cx="115.5" cy="927" rx="9" ry="12.4" transform="rotate(-20 115.5 927)" fill="none" stroke="#111" stroke-width="1.5"/>
<ellipse cx="113.5" cy="928" rx="9" ry="12.4" transform="rotate(-20 113.5 928)" fill="#fff" stroke="#111" stroke-width="1.8"/>
<ellipse cx="114.5" cy="927.5" rx="5.4" ry="8.4" transform="rotate(-20 114.5 927.5)" fill="none" stroke="#111" stroke-width="1.5"/>
<path d="M114,921 L116,934 M118,921 L119,933" fill="none" stroke="#111" stroke-width="1.30" stroke-linejoin="round" stroke-linecap="round" />
<path d="M92,923.5 L108,932.5" fill="none" stroke="#111" stroke-width="3.60" stroke-linejoin="round" stroke-linecap="round" />
<path d="M92,923.5 L108,932.5" fill="none" stroke="#fff" stroke-width="1.40" stroke-linejoin="round" stroke-linecap="round" />
<ellipse cx="84.5" cy="942" rx="6.4" ry="9.6" transform="rotate(-15 84.5 942)" fill="#fff" stroke="#111" stroke-width="1.6"/>
<ellipse cx="81" cy="942.6" rx="6.4" ry="9.6" transform="rotate(-15 81 942.6)" fill="#fff" stroke="#111" stroke-width="1.8"/>
<circle cx="81.3" cy="943" r="2" fill="#111"/>
<path d="M41,965.5 L67.5,951.5" fill="none" stroke="#111" stroke-width="6.20" stroke-linejoin="round" stroke-linecap="round" />
<path d="M41,965.5 L67.5,951.5" fill="none" stroke="#fff" stroke-width="3.40" stroke-linejoin="round" stroke-linecap="round" />
<path d="M43.1,961.3 L44.9,966.7" fill="none" stroke="#111" stroke-width="0.90" stroke-linejoin="round" stroke-linecap="round" />
<path d="M45.8,959.9 L47.6,965.3" fill="none" stroke="#111" stroke-width="0.90" stroke-linejoin="round" stroke-linecap="round" />
<path d="M48.5,958.5 L50.3,963.9" fill="none" stroke="#111" stroke-width="0.90" stroke-linejoin="round" stroke-linecap="round" />
<path d="M51.2,957.0 L53.0,962.4" fill="none" stroke="#111" stroke-width="0.90" stroke-linejoin="round" stroke-linecap="round" />
<path d="M53.9,955.6 L55.7,961.0" fill="none" stroke="#111" stroke-width="0.90" stroke-linejoin="round" stroke-linecap="round" />
<path d="M56.6,954.2 L58.4,959.6" fill="none" stroke="#111" stroke-width="0.90" stroke-linejoin="round" stroke-linecap="round" />
<path d="M59.3,952.8 L61.1,958.2" fill="none" stroke="#111" stroke-width="0.90" stroke-linejoin="round" stroke-linecap="round" />
<path d="M62.0,951.4 L63.8,956.8" fill="none" stroke="#111" stroke-width="0.90" stroke-linejoin="round" stroke-linecap="round" />
<path d="M64.7,949.9 L66.5,955.3" fill="none" stroke="#111" stroke-width="0.90" stroke-linejoin="round" stroke-linecap="round" />
<path d="M32,963 L38,960.5 Q43,962 43.5,968 Q43,974 37,975.5 L31,977 Z" fill="#fff" stroke="#111" stroke-width="1.60" stroke-linejoin="round" stroke-linecap="round" />
<ellipse cx="31.5" cy="970" rx="4.2" ry="6.6" transform="rotate(-20 31.5 970)" fill="#fff" stroke="#111" stroke-width="1.8"/>
<ellipse cx="31.5" cy="970" rx="1.9" ry="3" transform="rotate(-20 31.5 970)" fill="#111"/>
<path d="M902.3,546.7 L907.4,544.1 L913.8,545.4 L916.4,542.9 L922.7,544.1 L926.6,550.5 L931.7,556.9 L938,560.7 L939.3,567.1 L933,569 L926.6,565.8 L906.1,555.6 L902.3,553.1 Z" fill="#fff" stroke="#111" stroke-width="1.60" stroke-linejoin="round" stroke-linecap="round" />
<path d="M927,552 L935,558 Q939,562 937,567" fill="none" stroke="#111" stroke-width="1.10" stroke-linejoin="round" stroke-linecap="round" />
<ellipse cx="917.6" cy="548.6" rx="2.8" ry="3.6" transform="rotate(-20 917.6 548.6)" fill="#fff" stroke="#111" stroke-width="1.8"/>
<circle cx="906.1" cy="551.8" r="1.2" fill="#111"/>
<circle cx="929.7" cy="562.6" r="1.4" fill="#111"/>
<ellipse cx="938.4" cy="549.8" rx="3" ry="4.6" transform="rotate(-25 938.4 549.8)" fill="#fff" stroke="#111" stroke-width="1.3"/>
<ellipse cx="938.6" cy="549.8" rx="1.4" ry="2.6" transform="rotate(-25 938.6 549.8)" fill="none" stroke="#111" stroke-width="1"/>
<path d="M865.3,555.6 L870,556 L876.8,558.8 L885.7,563.3 L892.1,569 L901,572.2 L907.4,576 L909.3,581.1 L906.1,584.3 L901,583.1 L892.1,583.1 L883.2,577.3 L871.7,567.1 L865.3,558.2 Z" fill="#fff" stroke="#111" stroke-width="1.60" stroke-linejoin="round" stroke-linecap="round" />
<path d="M876,558.5 Q880,566 887.5,581" fill="none" stroke="#111" stroke-width="1.40" stroke-linejoin="round" stroke-linecap="round" />
<path d="M865.5,557 L883,578" fill="none" stroke="#111" stroke-width="1.00" stroke-linejoin="round" stroke-linecap="round" />
<circle cx="902.3" cy="579.2" r="1.5" fill="#111"/>
<path d="M871.5,594 L876.5,591.5" fill="none" stroke="#111" stroke-width="4.40" stroke-linejoin="round" stroke-linecap="round" />
<circle cx="872.5" cy="594.5" r="2.4" fill="#111"/>
</svg>
</body></html>
